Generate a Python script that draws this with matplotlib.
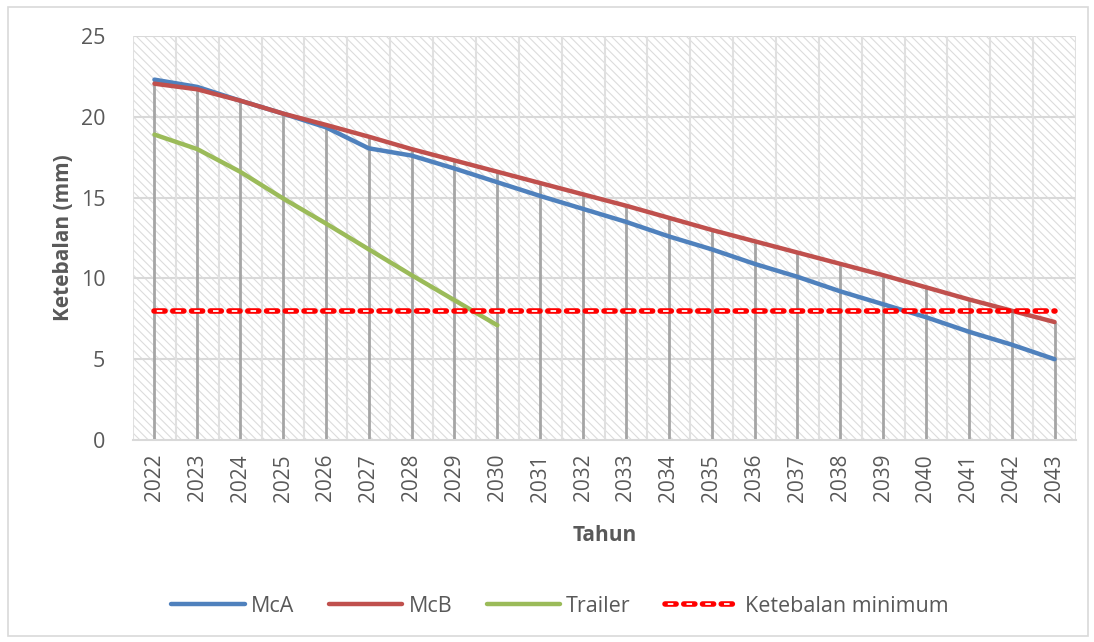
import matplotlib
matplotlib.use("Agg")
import matplotlib.pyplot as plt
from matplotlib.patches import Rectangle
from matplotlib.lines import Line2D
import numpy as np

years = [str(y) for y in range(2022, 2044)]
mca = [22.3, 21.85, 21.0, 20.2, 19.35, 18.05, 17.6, 16.8, 15.95, 15.1, 14.3, 13.5,
       12.6, 11.8, 10.9, 10.1, 9.2, 8.4, 7.6, 6.7, 5.9, 5.0]
mcb = [22.05, 21.7, 21.0, 20.2, 19.5, 18.77, 18.0, 17.3, 16.6, 15.9, 15.2, 14.5,
       13.75, 13.0, 12.3, 11.6, 10.9, 10.2, 9.45, 8.7, 8.0, 7.3]
trailer = [18.9, 18.0, 16.6, 14.95, 13.4, 11.8, 10.2, 8.65, 7.1]
minimum = [8] * len(years)
yticks = [0, 5, 10, 15, 20, 25]

plt.rcParams['font.family'] = ['Open Sans', 'DejaVu Sans']
plt.rcParams['lines.scale_dashes'] = False
plt.rcParams['hatch.linewidth'] = 0.8

TXT = '#595959'
GRID = '#d9d9d9'

fig = plt.figure(figsize=(10.94, 6.42), dpi=100)
fig.patches.append(Rectangle((8 / 1094, 1 - 636 / 642), 1080 / 1094, 629 / 642,
                             transform=fig.transFigure, fill=False,
                             edgecolor='#d9d9d9', lw=1.2))
ax = fig.add_axes([133 / 1094, 1 - 440 / 642, (1076 - 133) / 1094, (440 - 36) / 642])
x = np.arange(len(years))
ax.set_xlim(-0.5, len(years) - 0.5)
ax.set_ylim(0, 25)

ax.add_patch(Rectangle((0, 0), 1, 1, transform=ax.transAxes, facecolor='white',
                       edgecolor='#dcdcdc', hatch='\\\\\\\\', lw=0, zorder=0))

for yv in yticks[1:]:
    ax.axhline(yv, color=GRID, lw=1.5, zorder=1)
for b in np.arange(-0.5, len(years), 1.0):
    ax.axvline(b, color='#e0e0e0', lw=1.5, zorder=1)

tr_full = trailer + [np.nan] * (len(years) - len(trailer))
tops = np.nanmax(np.vstack([mca, mcb, tr_full]), axis=0)
ax.vlines(x, 0, tops, color='#a5a5a5', lw=2, zorder=2)

ax.plot(x, mca, color='#4f81bd', lw=3.2, solid_capstyle='round', zorder=4)
ax.plot(x, mcb, color='#c0504d', lw=3.2, solid_capstyle='round', zorder=4)
ax.plot(x[:len(trailer)], trailer, color='#9bbb59', lw=3.2, solid_capstyle='round', zorder=4)
ax.plot(x, minimum, color='#ff0000', lw=4.0, dashes=(8, 5.5), dash_capstyle='round', zorder=5)
ax.plot(x, minimum, color='white', lw=1.3, dashes=(0, 2.0, 4.0, 7.5), zorder=6)

for s in ['top', 'right', 'left']:
    ax.spines[s].set_visible(False)
ax.spines['bottom'].set_color(GRID)
ax.spines['bottom'].set_linewidth(1.5)

ax.set_yticks(yticks)
ax.set_yticklabels([str(v) for v in yticks])
ax.set_xticks(x)
ax.set_xticklabels(years, rotation=90)
ax.tick_params(axis='y', length=0, pad=20, labelsize=15.5, labelcolor=TXT)
ax.tick_params(axis='x', length=0, pad=10, labelsize=15, labelcolor=TXT)

ax.set_xlabel('Tahun', fontsize=15, fontweight='bold', color=TXT, labelpad=17)
ax.set_ylabel('Ketebalan (mm)', fontsize=15, fontweight='bold', color=TXT, labelpad=5)

h1 = Line2D([], [], color='#4f81bd', lw=3.2, solid_capstyle='round')
h2 = Line2D([], [], color='#c0504d', lw=3.2, solid_capstyle='round')
h3 = Line2D([], [], color='#9bbb59', lw=3.2, solid_capstyle='round')
h4a = Line2D([], [], color='#ff0000', lw=4.0, dashes=(8, 5.5), dash_capstyle='round')
h4b = Line2D([], [], color='white', lw=1.3, dashes=(0, 2.0, 4.0, 7.5))
leg = fig.legend([h1, h2, h3, (h4a, h4b)], ['McA', 'McB', 'Trailer', 'Ketebalan minimum'],
                 loc='center', bbox_to_anchor=(560 / 1094, 1 - 606 / 642), ncol=4,
                 frameon=False, fontsize=15.5, handlelength=3.4, handletextpad=0.3,
                 columnspacing=1.6, labelcolor=TXT)

fig.savefig('out.png', dpi=100)
